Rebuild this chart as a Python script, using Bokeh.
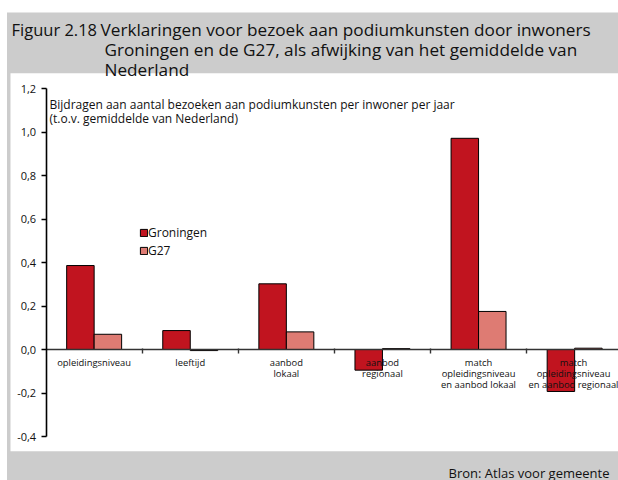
from bokeh.plotting import figure
from bokeh.models import Range1d, LinearAxis, FixedTicker, Label, BoxAnnotation
from bokeh.embed import file_html
from bokeh.resources import INLINE

# ---- data ----
categories = ["opleidingsniveau", "leeftijd", "aanbod\nlokaal", "aanbod\nregionaal",
              "match\nopleidingsniveau\nen aanbod lokaal",
              "match\nopleidingsniveau\nen aanbod regionaal"]
groningen = [0.386, 0.087, 0.302, -0.095, 0.971, -0.193]
g27 = [0.070, -0.005, 0.081, 0.004, 0.175, 0.006]
y_ticks = [-0.4, -0.2, 0.0, 0.2, 0.4, 0.6, 0.8, 1.0, 1.2]
y_tick_labels = ["-0,4", "-0,2", "0,0", "0,2", "0,4", "0,6", "0,8", "1,0", "1,2"]
series_names = ["Groningen", "G27"]

FONT = "Open Sans"
GREY = "#cccccc"
RED = "#c1141f"
SALMON = "#de7b73"
TXT = "#111111"

W, H = 618, 480
# layout: pixel position of category axis origin / zero line and scale
X0_PX, CAT_PX = 45.6, 96.1
Y0_PX, UNIT_PX = 349.0, 217.5


def px2x(px):
    return (px - X0_PX) / CAT_PX


def py2y(py):
    return (Y0_PX - py) / UNIT_PX


p = figure(width=W, height=H, output_backend="svg", toolbar_location=None,
           x_axis_type=None, y_axis_type=None,
           x_range=Range1d(px2x(0), px2x(W)), y_range=Range1d(py2y(H), py2y(0)),
           min_border_left=0, min_border_right=0, min_border_top=0, min_border_bottom=0,
           background_fill_color="white", border_fill_color=GREY,
           outline_line_color=None)
p.xgrid.visible = False
p.ygrid.visible = False

# grey frame and white panel
p.add_layout(BoxAnnotation(left=px2x(6.5), right=px2x(W + 40), top=py2y(12), bottom=py2y(H + 40),
                           fill_color=GREY, fill_alpha=1, line_alpha=0, level="underlay"))
p.add_layout(BoxAnnotation(left=px2x(10), right=px2x(W + 40), top=py2y(72.7), bottom=py2y(450.7),
                           fill_color="white", fill_alpha=1, line_alpha=0, level="underlay"))

bw = 0.286
n = len(categories)
centers = [i + 0.5 for i in range(n)]
p.vbar(x=[c - bw / 2 for c in centers], top=groningen, bottom=0, width=bw,
       fill_color=RED, line_color="black", line_width=1, legend_label=series_names[0])
p.vbar(x=[c + bw / 2 for c in centers], top=g27, bottom=0, width=bw,
       fill_color=SALMON, line_color="black", line_width=1, legend_label=series_names[1])

# y axis at x=0
yaxis = LinearAxis(fixed_location=0, bounds=(y_ticks[0], y_ticks[-1]),
                   ticker=FixedTicker(ticks=y_ticks, minor_ticks=[]))
yaxis.major_label_overrides = {t: l for t, l in zip(y_ticks, y_tick_labels)}
yaxis.axis_line_color = "black"
yaxis.axis_line_width = 1.6
yaxis.major_tick_line_color = "black"
yaxis.major_tick_line_width = 1.4
yaxis.major_tick_out = 5
yaxis.major_tick_in = 0
yaxis.major_label_standoff = 5
yaxis.major_label_text_font = FONT
yaxis.major_label_text_font_size = "11px"
yaxis.major_label_text_color = TXT
p.add_layout(yaxis, "left")

# x axis at y=0
xaxis = LinearAxis(fixed_location=0, bounds=(0, n),
                   ticker=FixedTicker(ticks=centers, minor_ticks=list(range(1, n))))
xaxis.major_label_overrides = {c: l for c, l in zip(centers, categories)}
xaxis.axis_line_color = "#333333"
xaxis.axis_line_width = 1.6
xaxis.major_tick_line_color = None
xaxis.minor_tick_line_color = "#333333"
xaxis.minor_tick_line_width = 1.4
xaxis.minor_tick_out = 4
xaxis.minor_tick_in = 1
xaxis.major_label_standoff = 0
xaxis.major_label_text_font = FONT
xaxis.major_label_text_font_size = "9.4px"
xaxis.major_label_text_color = TXT
xaxis.major_label_text_line_height = 0.88
p.add_layout(xaxis, "below")

# legend
lg = p.legend[0]
lg.location = (139, 221 - (480 - H))
lg.background_fill_alpha = 0
lg.border_line_alpha = 0
lg.padding = 0
lg.margin = 0
lg.spacing = 1
lg.glyph_width = 9
lg.glyph_height = 9
lg.label_height = 12
lg.label_standoff = 0
lg.label_text_font = FONT
lg.label_text_font_size = "12px"
lg.label_text_color = TXT


# texts, positioned in canvas pixels (x from left, y = baseline from top)
def add_text(text, px, py, size, align="left"):
    p.add_layout(Label(text=text, x=px, y=H - py, x_units="screen", y_units="screen",
                       text_font=FONT, text_font_size=size, text_align=align,
                       text_baseline="alphabetic", text_color=TXT))


add_text("Figuur 2.18", 11, 29, "16.5px")
add_text("Verklaringen voor bezoek aan podiumkunsten door inwoners", 100, 29, "17.2px")
add_text("Groningen en de G27, als afwijking van het gemiddelde van", 104, 49, "17.2px")
add_text("Nederland", 104, 68.5, "17.2px")
add_text("Bijdragen aan aantal bezoeken aan podiumkunsten per inwoner per jaar", 49, 104, "12px")
add_text("(t.o.v. gemiddelde van Nederland)", 49, 117.5, "12px")
add_text("Bron: Atlas voor gemeente", 609, 472, "13px", align="right")

open("out.html", "w").write(file_html(p, INLINE))
